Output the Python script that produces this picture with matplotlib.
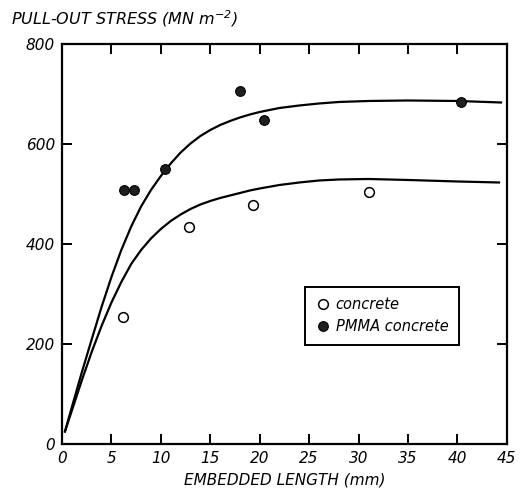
import matplotlib
matplotlib.use("Agg")
import matplotlib.pyplot as plt

plt.rcParams['font.family'] = ['DejaVu Sans']
plt.rcParams['font.style'] = 'italic'
plt.rcParams['mathtext.default'] = 'it'

# measured points
concrete_x = [6.2, 12.8, 19.3, 31.0]
concrete_y = [254, 433, 478, 503]
pmma_x = [6.3, 7.3, 10.4, 18.05, 20.4, 40.4]
pmma_y = [507, 507, 549, 706, 647, 683]

# hand-drawn trend curves
pmma_curve_x = [0.3, 1, 2, 3, 4, 5, 6, 7, 8, 9, 10, 11, 12, 13, 14, 15, 16,
                17, 18, 19, 20, 22, 24, 26, 28, 31, 35, 40, 44.4]
pmma_curve_y = [25, 74, 143, 209, 274, 334, 388, 435, 475, 508, 536, 561,
                583, 601, 616, 628, 638, 646, 653, 659, 664, 672, 677, 681,
                684, 686, 687, 686, 683]
concrete_curve_x = [0.3, 1, 2, 3, 4, 5, 6, 7, 8, 9, 10, 11, 12, 13, 14, 15,
                    16, 17, 18, 19, 20, 22, 24, 26, 28, 31, 35, 40, 44.2]
concrete_curve_y = [25, 67, 127, 184, 236, 283, 324, 360, 388, 411, 430, 446,
                    459, 470, 479, 486, 492, 497, 502, 507, 511, 518, 523,
                    527, 529, 530, 528, 525, 523]

x_ticks = [0, 5, 10, 15, 20, 25, 30, 35, 40, 45]
y_ticks = [0, 200, 400, 600, 800]

fig = plt.figure(figsize=(5.21, 4.92), dpi=100)
ax = fig.add_axes([0.119, 0.0976, 0.854, 0.813])

ax.plot(pmma_curve_x, pmma_curve_y, color='black', lw=1.6, zorder=2)
ax.plot(concrete_curve_x, concrete_curve_y, color='black', lw=1.6, zorder=2)

ax.plot(concrete_x, concrete_y, 'o', ms=7, mfc='white', mec='black', mew=1.1,
        ls='none', label='concrete', zorder=3)
ax.plot(pmma_x, pmma_y, 'o', ms=7, mfc='#1e1e1e', mec='black', mew=0.8,
        ls='none', label='PMMA concrete', zorder=3)

ax.set_xlim(0, 45)
ax.set_ylim(0, 800)
ax.set_xticks(x_ticks)
ax.set_yticks(y_ticks)
ax.tick_params(direction='in', length=7, width=1.4, top=True, right=True,
               labelsize=11, pad=5)
for s in ax.spines.values():
    s.set_linewidth(1.6)

ax.set_xlabel('EMBEDDED LENGTH (mm)', fontsize=11, labelpad=5)
fig.text(0.022, 0.962, 'PULL-OUT STRESS (MN m$^{-2}$)', fontsize=11.5,
         ha='left', va='center')

leg = ax.legend(loc='lower left', bbox_to_anchor=(0.53, 0.23), fontsize=10.5,
                frameon=True, fancybox=False, edgecolor='black', framealpha=1,
                handletextpad=0.4, handlelength=1.0, borderpad=0.7,
                labelspacing=0.5)
leg.get_frame().set_linewidth(1.4)

fig.savefig('out.png', dpi=100)
